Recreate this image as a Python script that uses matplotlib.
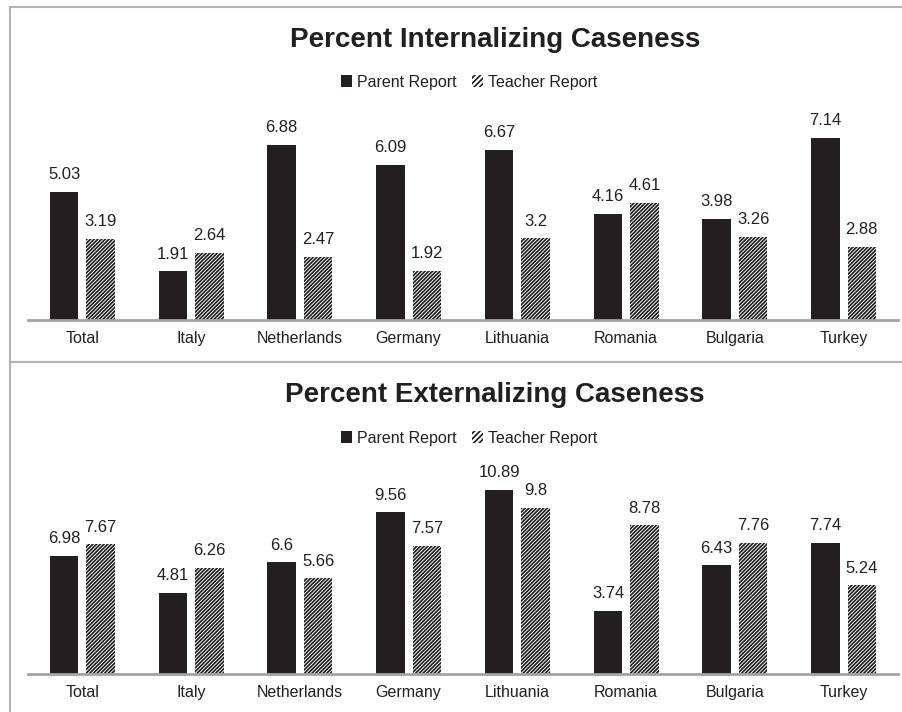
import matplotlib
matplotlib.use('Agg')
import matplotlib.pyplot as plt
import matplotlib.patches as mpatches
import numpy as np

plt.rcParams['font.family'] = ['Liberation Sans', 'DejaVu Sans']
plt.rcParams['hatch.linewidth'] = 1.2

countries = ['Total', 'Italy', 'Netherlands', 'Germany', 'Lithuania', 'Romania', 'Bulgaria', 'Turkey']

int_parent = [5.03, 1.91, 6.88, 6.09, 6.67, 4.16, 3.98, 7.14]
int_teacher = [3.19, 2.64, 2.47, 1.92, 3.2, 4.61, 3.26, 2.88]

ext_parent = [6.98, 4.81, 6.6, 9.56, 10.89, 3.74, 6.43, 7.74]
ext_teacher = [7.67, 6.26, 5.66, 7.57, 9.8, 8.78, 7.76, 5.24]

W, H = 903, 712
DARK = '#231f20'
GREY = '#a3a3a3'
TEXT = '#231f20'
HATCH = '/////////'

fig = plt.figure(figsize=(W / 100, H / 100), dpi=100)

# panel frames
for y0, y1 in [(7, 362), (362, 716)]:
    fig.patches.append(mpatches.Rectangle((10 / W, 1 - y1 / H), 900 / W, (y1 - y0) / H,
                                          transform=fig.transFigure, fill=False,
                                          edgecolor='#b4b4b4', lw=1.5))


def panel(base, top, parent, teacher, ymax, title, title_y, legend_y):
    ax = fig.add_axes([28 / W, 1 - base / H, 870 / W, (base - top) / H])
    x = np.arange(len(countries))
    bw = 0.262
    off = 0.167
    b1 = ax.bar(x - off, parent, bw, color=DARK, linewidth=0)
    b2 = ax.bar(x + off, teacher, bw, facecolor='white', edgecolor='#1a1a1a',
                hatch=HATCH, linewidth=0)
    ax.bar_label(b1, labels=[f'{v:g}' for v in parent], padding=7, fontsize=12, color=TEXT)
    ax.bar_label(b2, labels=[f'{v:g}' for v in teacher], padding=7, fontsize=12, color=TEXT)
    ax.set_xlim(-0.5, len(countries) - 0.5)
    ax.set_ylim(0, ymax)
    ax.set_xticks(x)
    ax.set_xticklabels(countries, fontsize=11.5, color=TEXT)
    ax.tick_params(axis='x', length=0, pad=8)
    ax.set_yticks([])
    for s in ['left', 'right', 'top']:
        ax.spines[s].set_visible(False)
    ax.spines['bottom'].set_color(GREY)
    ax.spines['bottom'].set_linewidth(2)
    ax.patch.set_alpha(0)

    fig.text(495 / W, 1 - title_y / H, title, ha='center', va='center',
             fontsize=20, fontweight='bold', color=TEXT)
    handles = [mpatches.Patch(facecolor=DARK, linewidth=0, label='Parent Report'),
               mpatches.Patch(facecolor='white', edgecolor='#1a1a1a', hatch='//////',
                              linewidth=0, label='Teacher Report')]
    fig.legend(handles=handles, loc='center', ncol=2, frameon=False,
               bbox_to_anchor=(469 / W, 1 - legend_y / H), fontsize=11.5,
               handlelength=0.7, handleheight=0.7, handletextpad=0.3,
               columnspacing=1.0, labelcolor=TEXT)
    return ax


panel(320, 111, int_parent, int_teacher, 8.2, 'Percent Internalizing Caseness', 40, 82)
panel(674, 471, ext_parent, ext_teacher, 12.0, 'Percent Externalizing Caseness', 395, 438)

fig.savefig('out.png', dpi=100, facecolor='white')
